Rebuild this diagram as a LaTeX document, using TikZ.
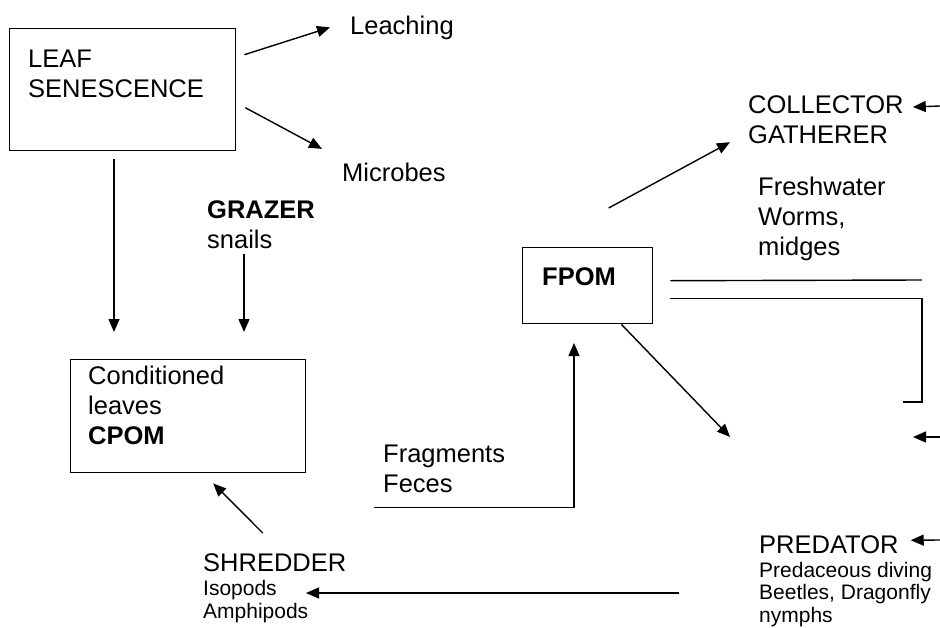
\documentclass[tikz,border=0pt]{standalone}
\usepackage{fontspec}
\setmainfont{Liberation Sans}
\usetikzlibrary{arrows.meta}

\begin{document}
\begin{tikzpicture}[
            x=1pt, y=-1pt,
            box/.style={
                    rectangle,
                    draw=black,
                    line width=1.4pt,
                    anchor=north west,
                    inner sep=0pt
                },
            big/.style={
                    anchor=base west,
                    align=left,
                    inner sep=0pt,
                    font=\fontsize{25.5}{30}\selectfont
                },
            small/.style={
                    anchor=base west,
                    align=left,
                    inner sep=0pt,
                    font=\fontsize{21}{22.5}\selectfont
                },
            line/.style={
                    draw,
                    line width=1.4pt
                },
            arrow/.style={
                    line,
                    -{Triangle[length=13pt, width=11pt]}
                }
        ]
        \useasboundingbox (0,0) rectangle (940,627);

        % Boxes
        \node [box, minimum width=226pt, minimum height=122pt] (leaf) at (9,28) {};
        \node [box, minimum width=235pt, minimum height=113pt] (cpom) at (70,359) {};
        \node [box, minimum width=130pt, minimum height=76pt] (fpom) at (522,247) {};

        % Texts (base = last line)
        \node [big] (leaftxt) at (28,97) {LEAF\\SENESCENCE};
        \node [big] (leach) at (350,34) {Leaching};
        \node [big] (micro) at (342,181) {Microbes};
        \node [big] (grazer) at (207,248) {\textbf{GRAZER}\\snails};
        \node [big] (cpomtxt) at (88,444) {Conditioned\\leaves\\\textbf{CPOM}};
        \node [big] (frag) at (383,492) {Fragments\\Feces};
        \node [big] (fpomtxt) at (542,285) {\textbf{FPOM}};
        \node [big] (coll) at (748,143) {COLLECTOR\\GATHERER};
        \node [big] (fresh) at (758,255) {Freshwater\\Worms,\\midges};
        \node [big] (pred) at (759,553) {PREDATOR};
        \node [small] (predsub) at (759,622) {Predaceous diving\\Beetles, Dragonfly\\nymphs};
        \node [big] (shred) at (203,571) {SHREDDER};
        \node [small] (shredsub) at (203,618) {Isopods\\Amphipods};

        % Free ends
        \coordinate (leafdown) at (114,332);
        \coordinate (grazerdown) at (244,332);
        \coordinate (fpomin) at (574,343);
        \coordinate (predin) at (730,437);
        \coordinate (shredin) at (306,593);
        \coordinate (predout) at (679,593);
        \coordinate (edgeA) at (940,106);
        \coordinate (edgeB) at (940,437);
        \coordinate (edgeC) at (940,540);
        \coordinate (edgeD) at (913,437);
        \coordinate (trunkA) at (922,280);
        \coordinate (trunkB) at (922,402);
        \coordinate (trunkC) at (903,402);

        % Arrows out of leaf senescence
        \path [arrow] ([shift={(8,-35)}]leaf.east) -- ([xshift=-20pt]leach.west);
        \path [arrow] ([shift={(9,18)}]leaf.east) -- ([shift={(-20,-23)}]micro.west);
        \path [arrow, shorten <=8pt] (leaf.south -| leafdown) -- (leafdown);
        \path [arrow, shorten <=6pt] (grazer.south -| grazerdown) -- (grazerdown);

        % Shredder and fragments
        \path [arrow] ([shift={(-12,-20)}]shred.north) -- ([shift={(25,10)}]cpom.south);
        \path [arrow] (predout) -- (shredin);
        \path [arrow] ([shift={(-9,15)}]frag.south west) -| (fpomin);

        % Out of FPOM
        \path [arrow] ([shift={(21,-39)}]fpom.north) -- ([shift={(-18,23)}]coll.west);
        \path [arrow] ([xshift=-32pt]fpom.south east) -- (predin);
        \path [line] ([shift={(17,-5)}]fpom.east) -- (trunkA);
        \path [line] ([shift={(17,13)}]fpom.east) -| (trunkB) -- (trunkC);

        % From the right edge
        \path [arrow] (edgeA) -- ([shift={(9,12)}]coll.north east);
        \path [arrow] (edgeB) -- (edgeD);
        \path [arrow] (edgeC) -- ([shift={(12,-4)}]pred.east);
    \end{tikzpicture}
\end{document}
